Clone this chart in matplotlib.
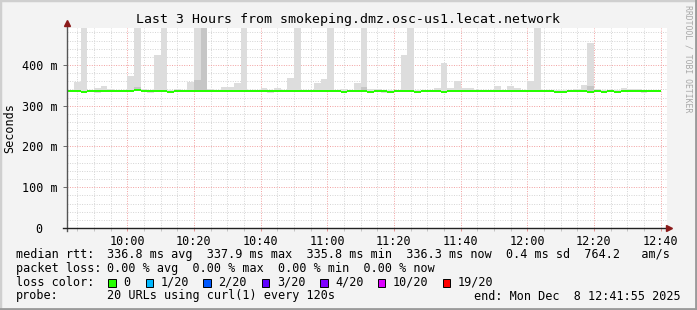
import numpy as np
import matplotlib.pyplot as plt
from matplotlib.patches import Rectangle
from matplotlib.lines import Line2D

W, H = 697, 310
MONO = 'DejaVu Sans Mono'

# 2-minute steps from 09:42 to 12:40 (minutes of day)
start_min = 582
step = 2

# smoke (ms): light grey band lo..hi for each step
smoke_hi = [338, 359, 500, 338, 343, 348, 341, 338, 338, 373,
            500, 340, 338, 425, 500, 338, 341, 338, 358, 500,
            500, 341, 338, 345, 345, 357, 500, 338, 338, 343,
            338, 343, 338, 368, 500, 338, 338, 357, 365, 500,
            338, 340, 338, 357, 500, 340, 340, 338, 338, 338,
            425, 500, 338, 338, 338, 343, 406, 343, 361, 343,
            343, 338, 338, 338, 348, 338, 348, 343, 338, 361,
            500, 338, 338, 338, 338, 338, 340, 351, 455, 340,
            338, 338, 338, 343, 341, 340, 338, 338, 338]
smoke_lo = [335] * 89
for i in [4, 12, 30, 47, 86]:
    smoke_lo[i] = 332

# darker smoke pieces (step, lo, hi)
dark_steps = [10, 19, 20, 44, 78]
dark_lo = [339, 338, 338, 338, 336]
dark_hi = [346, 362, 500, 346, 348]

# median rtt (ms)
median = [336.8] * 89
for i in [2, 15, 41, 45, 48, 52, 56, 73, 74, 78, 80, 82]:
    median[i] = 333.6
median[10] = 338.6

loss_labels = ['0', '1/20', '2/20', '3/20', '4/20', '10/20', '19/20']
loss_colors = ['#26ff00', '#00b8ff', '#0059ff', '#5e00ff', '#7e00ff', '#dd00ff', '#ff0000']
box_x = [108.3, 145.7, 203.3, 261.7, 320.0, 377.7, 442.7]

tick_minutes = [600, 620, 640, 660, 680, 700, 720, 740, 760]
tick_labels = ['10:00', '10:20', '10:40', '11:00', '11:20', '11:40', '12:00', '12:20', '12:40']


def fx(px):
    return px / W


def fy(py):
    return 1 - py / H


fig = plt.figure(figsize=(W / 100, H / 100), dpi=100, facecolor='#f3f3f3')

# 3d-ish border of the image
fig.add_artist(Rectangle((0, 0), 1, 1, transform=fig.transFigure, fill=False,
                         edgecolor='#cfcfcf', lw=2.5))
fig.add_artist(Line2D([fx(0), fx(697)], [fy(309), fy(309)], color='#9a9a9a', lw=2))
fig.add_artist(Line2D([fx(696), fx(696)], [fy(0), fy(310)], color='#9a9a9a', lw=2))

ax = fig.add_axes([fx(67), fy(228), fx(667) - fx(67), fy(27.5) - fy(228)])
ax.set_facecolor('white')

edges = start_min + step * np.arange(len(smoke_hi) + 1)
ax.stairs(smoke_hi, edges, baseline=smoke_lo, fill=True, color='#dddddd', lw=0, zorder=2)
for s, lo, hi in zip(dark_steps, dark_lo, dark_hi):
    ax.bar(edges[s], hi - lo, width=step, bottom=lo, align='edge', color='#c6c6c6', lw=0, zorder=3)

med = np.array(median)
ax.stairs(med + 2.5, edges, baseline=med - 2.5, fill=True, color='#26ff00', lw=0, zorder=4)

ax.set_xlim(581.92, 761.92)
ax.set_ylim(0, 492)

ax.set_xticks(tick_minutes)
ax.set_xticklabels(tick_labels)
ax.set_xticks(np.arange(585, 762, 5), minor=True)
ax.set_yticks([0, 100, 200, 300, 400])
ax.set_yticklabels(['0  ', '100 m', '200 m', '300 m', '400 m'])
ax.set_yticks(np.arange(20, 492, 20), minor=True)

ax.grid(which='minor', color='#d4d4d4', ls=(0, (1, 1.5)), lw=0.7)
ax.grid(which='major', color='#f2a0a0', ls=(0, (1, 1.5)), lw=0.7)
ax.set_axisbelow(True)

for lab in ax.get_xticklabels() + ax.get_yticklabels():
    lab.set_family(MONO)
    lab.set_fontsize(8.5)
ax.tick_params(axis='x', which='both', length=2, width=0.6, color='#e08080', pad=3)
ax.tick_params(axis='y', which='major', length=3, width=0.6, color='#555555', pad=4)
ax.tick_params(axis='y', which='minor', length=0)
ax.tick_params(axis='x', which='minor', color='#bbbbbb')

for sp in ax.spines.values():
    sp.set_visible(False)

# axis lines with arrows
fig.add_artist(Line2D([fx(67), fx(67)], [fy(231), fy(23)], color='#555555', lw=1))
fig.add_artist(Line2D([fx(63), fx(668)], [fy(228), fy(228)], color='#222222', lw=1))
fig.add_artist(Line2D([fx(67)], [fy(23)], marker='^', ms=5, color='#8b1a1a', lw=0))
fig.add_artist(Line2D([fx(669)], [fy(228)], marker='>', ms=5, color='#8b1a1a', lw=0))

fig.text(fx(347.5), fy(19.5), 'Last 3 Hours from smokeping.dmz.osc-us1.lecat.network',
         family=MONO, fontsize=9.5, ha='center', va='center')
fig.text(fx(10), fy(128), 'Seconds', family=MONO, fontsize=8.5, rotation=90,
         ha='center', va='center')
fig.text(fx(688), fy(59), 'RRDTOOL / TOBI OETIKER', family=MONO, fontsize=5.9,
         rotation=-90, ha='center', va='center', color='#a8a8a8')

# legend block
lx, vx = 16, 107.3
rows = [254.3, 268.3, 282.3, 296.0]
fig.text(fx(lx), fy(rows[0]), 'median rtt:', family=MONO, fontsize=8.5, va='center')
fig.text(fx(vx), fy(rows[0]),
         '336.8 ms avg  337.9 ms max  335.8 ms min  336.3 ms now  0.4 ms sd  764.2   am/s',
         family=MONO, fontsize=8.5, va='center')
fig.text(fx(lx), fy(rows[1]), 'packet loss:', family=MONO, fontsize=8.5, va='center')
fig.text(fx(vx), fy(rows[1]), '0.00 % avg  0.00 % max  0.00 % min  0.00 % now',
         family=MONO, fontsize=8.5, va='center')
fig.text(fx(lx), fy(rows[2]), 'loss color:', family=MONO, fontsize=8.5, va='center')
for bx, lab, col in zip(box_x, loss_labels, loss_colors):
    fig.add_artist(Rectangle((fx(bx), fy(286.7)), fx(7.5), fx(7.7) * W / H,
                             transform=fig.transFigure, facecolor=col,
                             edgecolor='black', lw=0.7))
    fig.text(fx(bx + 15), fy(rows[2]), lab, family=MONO, fontsize=8.5, va='center')
fig.text(fx(lx), fy(rows[3]), 'probe:', family=MONO, fontsize=8.5, va='center')
fig.text(fx(vx), fy(rows[3]), '20 URLs using curl(1) every 120s',
         family=MONO, fontsize=8.5, va='center')
fig.text(fx(680.5), fy(rows[3]), 'end: Mon Dec  8 12:41:55 2025',
         family=MONO, fontsize=8.5, va='center', ha='right')

fig.savefig('out.png', dpi=100, facecolor=fig.get_facecolor())
